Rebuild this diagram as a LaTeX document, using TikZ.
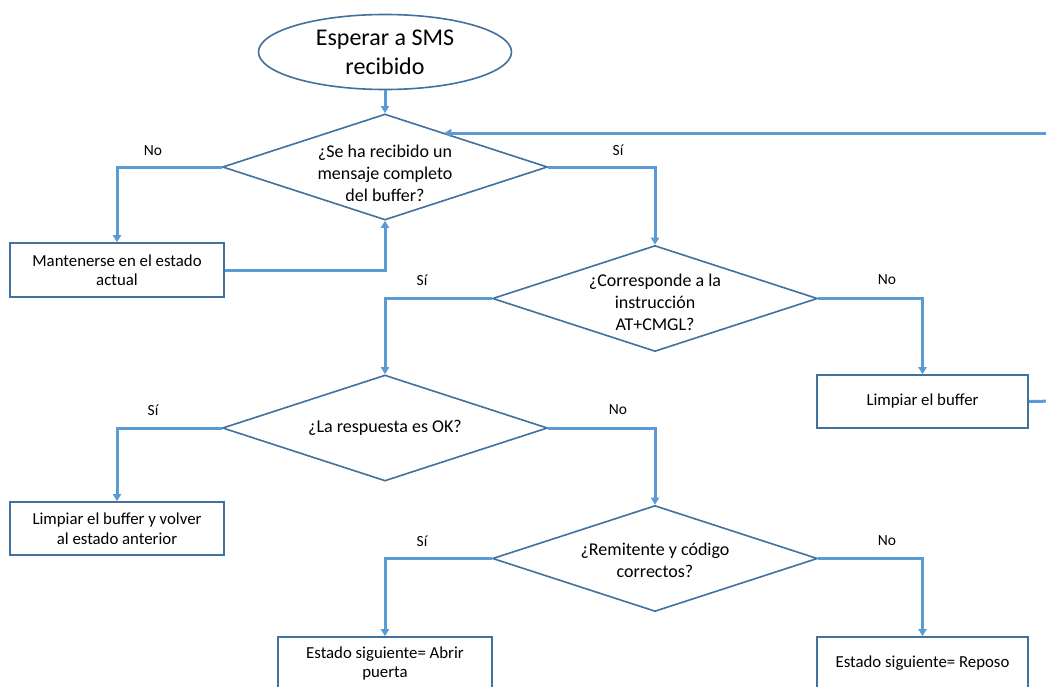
\documentclass[tikz,border=0pt]{standalone}
\usepackage{fontspec}
\setmainfont{Carlito}
\usetikzlibrary{shapes.geometric,arrows.meta}
\definecolor{linkblue}{HTML}{5B9BD5}
\definecolor{edgeblue}{HTML}{41719C}
\begin{document}
\begin{tikzpicture}[x=1pt,y=-1pt,
  shapeline/.style={draw=edgeblue, line width=1.6pt},
  decision/.style={shapeline, diamond, inner sep=0pt, minimum width=325pt, minimum height=106pt},
  dtext/.style={align=center, inner sep=0pt, font=\fontsize{18}{22}\selectfont},
  box/.style={shapeline, rectangle, inner sep=0pt, minimum width=214pt, minimum height=54pt,
    align=center, font=\fontsize{16.8}{19.5}\selectfont},
  lbl/.style={inner sep=0pt, font=\fontsize{15.5}{17}\selectfont},
  conn/.style={draw=linkblue, line width=3pt, -{Triangle[width=8pt,length=7pt]}},
  plain/.style={draw=linkblue, line width=3pt}]
\clip (0,0) rectangle (1046,686);
\fill[white] (0,0) rectangle (1046,686);

% start state
\node[shapeline, ellipse, inner sep=0pt, minimum width=253pt, minimum height=75pt] (start) at (385,52) {};
\node[align=center, inner sep=0pt, font=\fontsize{24}{29}\selectfont] (startt) at (385,52) {Esperar a SMS\\recibido};

% decisions
\node[decision] (d1) at (385,167) {};
\node[dtext] (d1t) at (385,173) {¿Se ha recibido un\\mensaje completo\\del buffer?};
\node[decision] (d2) at (655,298.5) {};
\node[dtext] (d2t) at (655,302) {¿Corresponde a la\\instrucción\\AT+CMGL?};
\node[decision] (d3) at (385,428) {};
\node[dtext] (d3t) at (385,428) {¿La respuesta es OK?};
\node[decision] (d4) at (655,558.5) {};
\node[dtext] (d4t) at (655,560) {¿Remitente y código\\correctos?};

% actions
\node[box] (b1) at (117,270) {Mantenerse en el estado\\actual};
\node[box, minimum width=211pt, minimum height=53pt] (bl) at (922.5,401.5) {Limpiar el buffer};
\node[box, minimum height=53pt] (b2) at (117,528.5) {Limpiar el buffer y volver\\al estado anterior};
\node[box, minimum height=53pt] (b3) at (385,663.5) {Estado siguiente= Abrir\\puerta};
\node[box, minimum width=211pt, minimum height=53pt] (b4) at (922.5,663.5) {Estado siguiente= Reposo};

% branch labels
\node[lbl] (l1) at (153,151) {No};
\node[lbl] (l2) at (618,150) {Sí};
\node[lbl] (l3) at (422,280) {Sí};
\node[lbl] (l4) at (887,280) {No};
\node[lbl] (l5) at (153,410) {Sí};
\node[lbl] (l6) at (618,410) {No};
\node[lbl] (l7) at (422,541) {Sí};
\node[lbl] (l8) at (887,541) {No};

% loose ends leaving the sheet on the right
\coordinate (back) at (1056,133);
\coordinate (out) at (1056,401);

% connectors
\draw[conn] (start.south) -- (d1.north);
\draw[conn] (d1.west) -| (b1.north);
\draw[conn] (b1.east) -| (d1.south);
\draw[conn] (d1.east) -| (d2.north);
\draw[conn] (back) -- (back -| d1.30);
\draw[conn] (d2.west) -| (d3.north);
\draw[conn] (d2.east) -| (bl.north);
\draw[plain] (bl.east) -- (out);
\draw[conn] (d3.west) -| (b2.north);
\draw[conn] (d3.east) -| (d4.north);
\draw[conn] (d4.west) -| (b3.north);
\draw[conn] (d4.east) -| (b4.north);
\end{tikzpicture}
\end{document}
